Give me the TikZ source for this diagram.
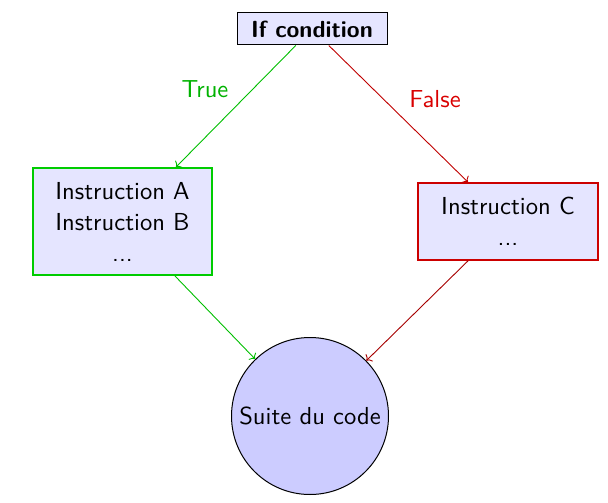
\documentclass[tikz,border=0pt]{standalone}
\usepackage{fontspec}
\setsansfont{lmsans10-regular.otf}[BoldFont=lmsans10-bold.otf]
\usetikzlibrary{arrows.meta}
\begin{document}
\begin{tikzpicture}[x=1pt,y=-1pt,
  font=\sffamily\fontsize{24.6}{31}\selectfont,
  base/.style={fill=blue!10, inner sep=0pt, align=center},
  ifbox/.style={base, draw=black, line width=1pt, minimum width=150pt, minimum height=32pt,
    font=\sffamily\bfseries\fontsize{23.3}{28}\selectfont},
  truebox/.style={base, draw=green!80!black, line width=1.8pt, minimum width=179pt, minimum height=107pt},
  falsebox/.style={base, draw=red!80!black, line width=1.8pt, minimum width=180pt, minimum height=77pt},
  endnode/.style={circle, draw=black, fill=blue!20, line width=1pt, minimum size=157pt, inner sep=0pt},
  flow/.style={-{To[length=4.5pt,width=10pt]}, line width=0.9pt},
  ]
  \useasboundingbox (0,0) rectangle (608,503);

  % decision and branches
  \node[ifbox]    (if)  at (312,29)      {If condition};
  \node[truebox]  (ta)  at (122.5,221.5) {Instruction A\\Instruction B\\...};
  \node[falsebox] (fc)  at (508,221.5)   {Instruction C\\...};
  \node[endnode]  (end) at (310,416)     {Suite du code};

  % branch labels
  \node[text=green!70!black] (tl) at (205,89) {True};
  \node[text=red!85!black]   (fl) at (435,99) {False};

  % connectors
  \draw[flow, green!75!black] (if) -- (ta);
  \draw[flow, red!75!black]   (if) -- (fc);
  \draw[flow, green!75!black] (ta) -- (end);
  \draw[flow, red!65!black]   (fc) -- (end);
\end{tikzpicture}
\end{document}
